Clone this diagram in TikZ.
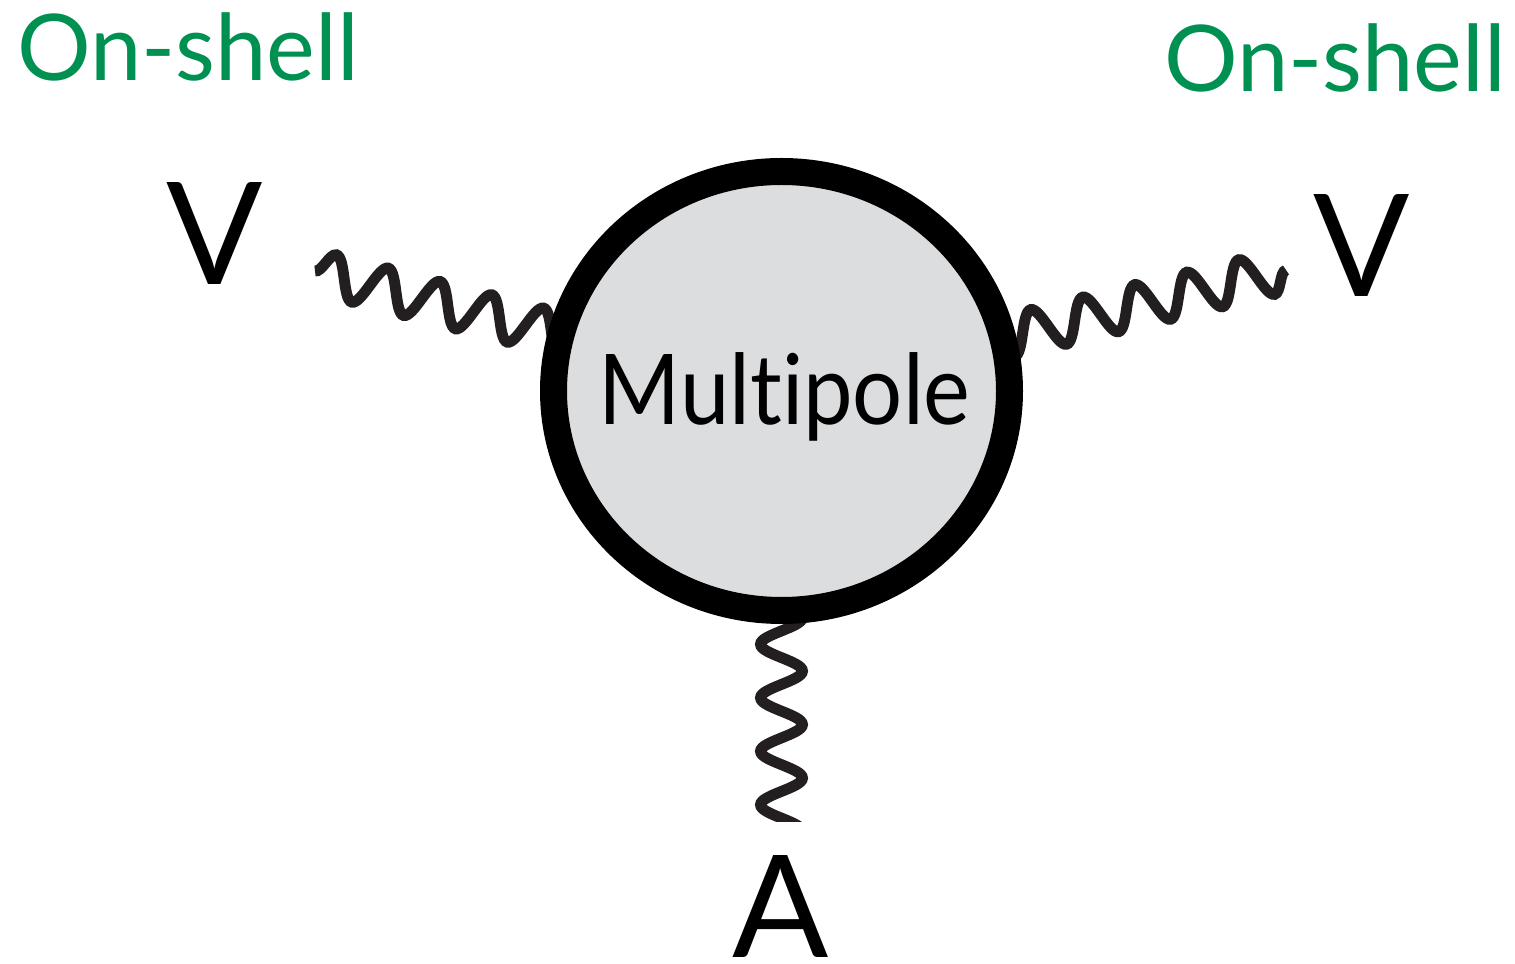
\documentclass[tikz,border=0pt]{standalone}
\usepackage{fontspec}
\setmainfont{Lato}[Ligatures=NoCommon]
\usepackage{xcolor}
\usepackage{graphicx}
\usetikzlibrary{shapes.geometric,decorations.pathmorphing,backgrounds}

\definecolor{shellgreen}{RGB}{0,145,82}
\definecolor{blobgray}{RGB}{220,221,223}
\definecolor{wiggle}{RGB}{35,31,32}

\tikzset{
  blob/.style={ellipse,draw=black,fill=blobgray,line width=0.27cm,
    minimum width=4.56cm,minimum height=4.39cm,inner sep=0pt},
  blobtext/.style={inner sep=0pt,anchor=base,
    font=\fontsize{27.8}{30}\selectfont},
  photon/.style={draw=wiggle,line width=3.1pt,decorate,
    decoration={snake,segment length=0.535cm,amplitude=0.21cm}},
  leg/.style={inner sep=0pt,anchor=base,font=\fontsize{40.5}{44}\selectfont},
  onshell/.style={inner sep=0pt,anchor=base,text=shellgreen,
    font=\fontsize{26.2}{30}\selectfont}
}

\begin{document}
\begin{tikzpicture}
  \useasboundingbox (0,0) rectangle (15.15,9.64);
  % the blob and its three legs
  \node[blob] (m) at (7.815,5.73) {};
  \node[blobtext] (mtext) at ([xshift=0.03cm,yshift=-0.34cm]m.center)
    {\scalebox{0.905}[1]{Multipole}};
  \coordinate (vl) at (3.15,6.93);
  \coordinate (vr) at (12.86,6.94);
  \coordinate (ab) at (7.815,0.89);
  % photons run under the rim; the lower one is cut off flat
  \begin{scope}[on background layer]
    \draw[photon] (vl) -- (m.center);
    \draw[photon] (vr) -- (m.center);
    \clip (0,1.42) rectangle (15.15,9.64);
    \draw[photon] (ab) -- (m.center);
  \end{scope}
  \node[leg] (vltext) at (2.15,6.79) {V};
  \node[leg] (vrtext) at (13.62,6.67) {V};
  \node[leg] (atext) at (7.81,0.06) {A};
  \node[onshell] (shl) at (1.88,8.83) {On-shell};
  \node[onshell] (shr) at (13.35,8.72) {On-shell};
\end{tikzpicture}
\end{document}
